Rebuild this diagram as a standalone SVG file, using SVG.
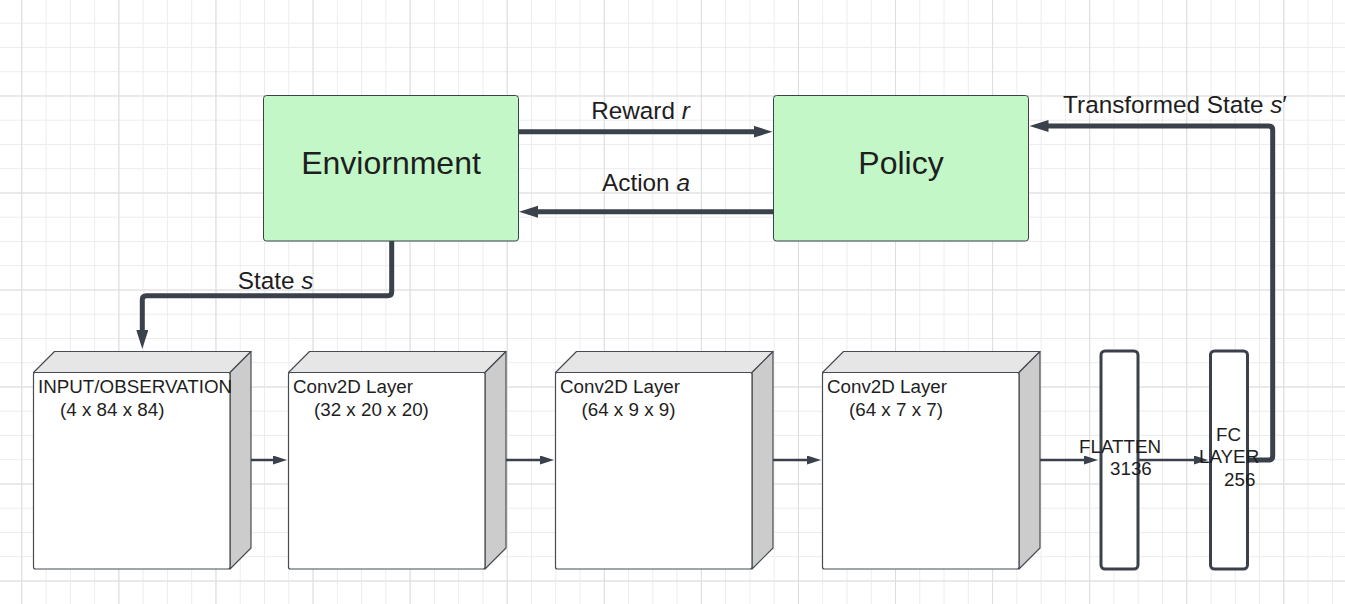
<svg xmlns="http://www.w3.org/2000/svg" width="1345" height="604" viewBox="0 0 1345 604">
<style>
text{font-family:"Liberation Sans",Arial,sans-serif;fill:#1e1e1e}
.big{font-size:32px}
.lbl{font-size:24.3px}
.sm{font-size:18.8px}
.box{fill:#c3f7c8;stroke:#3a414a;stroke-width:1}
.front{fill:#ffffff;stroke:#474c53;stroke-width:1.2}
.top{fill:#e6e6e6;stroke:#474c53;stroke-width:1.2;stroke-linejoin:round}
.side{fill:#cccccc;stroke:#474c53;stroke-width:1.2;stroke-linejoin:round}
.bar{fill:#ffffff;stroke:#3a414a;stroke-width:3}
.thick{fill:none;stroke:#3a414a;stroke-width:5;marker-end:url(#ah)}
.thin{fill:none;stroke:#3a414a;stroke-width:2.5;marker-end:url(#as)}
</style>
<defs>
<pattern id="minor" patternUnits="userSpaceOnUse" x="21.3" y="22.7" width="24.27" height="24.25">
<path d="M0.5 0V24.25M0 0.5H24.27" stroke="#ececec" stroke-width="1" fill="none"/>
</pattern>
<pattern id="major" patternUnits="userSpaceOnUse" x="21.3" y="95.5" width="97.08" height="97">
<path d="M0.5 0V97M0 0.5H97.08" stroke="#dddddd" stroke-width="1" fill="none"/>
</pattern>
<marker id="ah" markerUnits="userSpaceOnUse" markerWidth="20" markerHeight="13" refX="6" refY="6" orient="auto">
<path d="M0 0L19 6L0 12z" fill="#3a414a"/>
</marker>
<marker id="as" markerUnits="userSpaceOnUse" markerWidth="15" markerHeight="10" refX="4" refY="4.5" orient="auto">
<path d="M0 0L14 4.5L0 9z" fill="#3a414a"/>
</marker>
</defs>
<rect width="1345" height="604" fill="#ffffff"/>
<rect width="1345" height="604" fill="url(#minor)"/>
<rect width="1345" height="604" fill="url(#major)"/>

<g id="environment">
<rect class="box" x="263.5" y="95.5" width="255" height="145.5" rx="3"/>
<text class="big" x="391" y="174" text-anchor="middle">Enviornment</text>
</g>
<g id="policy">
<rect class="box" x="773.5" y="95.5" width="255" height="145.5" rx="3"/>
<text class="big" x="901" y="174" text-anchor="middle">Policy</text>
</g>

<g id="input">
<path class="top" d="M33.5 372.5L54.5 351.5H251L230 372.5z"/>
<path class="side" d="M230 372.5L251 351.5V548L230 569z"/>
<rect class="front" x="33.5" y="372.5" width="196.5" height="196.5" rx="2"/>
<text class="sm" x="38" y="392.5">INPUT/OBSERVATION</text>
<text class="sm" x="60" y="416">(4 x 84 x 84)</text>
</g>
<g id="conv1">
<path class="top" d="M288.5 372.5L309.5 351.5H506L485 372.5z"/>
<path class="side" d="M485 372.5L506 351.5V548L485 569z"/>
<rect class="front" x="288.5" y="372.5" width="196.5" height="196.5" rx="2"/>
<text class="sm" x="293" y="392.5">Conv2D Layer</text>
<text class="sm" x="314" y="416">(32 x 20 x 20)</text>
</g>
<g id="conv2">
<path class="top" d="M555.5 372.5L576.5 351.5H773L752 372.5z"/>
<path class="side" d="M752 372.5L773 351.5V548L752 569z"/>
<rect class="front" x="555.5" y="372.5" width="196.5" height="196.5" rx="2"/>
<text class="sm" x="560" y="392.5">Conv2D Layer</text>
<text class="sm" x="581.5" y="416">(64 x 9 x 9)</text>
</g>
<g id="conv3">
<path class="top" d="M822.5 372.5L843.5 351.5H1040L1019 372.5z"/>
<path class="side" d="M1019 372.5L1040 351.5V548L1019 569z"/>
<rect class="front" x="822.5" y="372.5" width="196.5" height="196.5" rx="2"/>
<text class="sm" x="827" y="392.5">Conv2D Layer</text>
<text class="sm" x="849" y="416">(64 x 7 x 7)</text>
</g>
<g id="flatten">
<rect class="bar" x="1101" y="351" width="37" height="218" rx="4"/>
</g>
<g id="fc">
<rect class="bar" x="1210.5" y="351" width="37" height="218" rx="4"/>
</g>

<g id="connectors">
<path class="thick" d="M518.5 131.7H759.5"/>
<path class="thick" d="M773 211.7H532"/>
<path class="thick" d="M391.7 241V291.7Q391.7 295.7 387.7 295.7H146.3Q142.3 295.7 142.3 299.7V336"/>
<path class="thick" d="M1247 460H1268.7Q1272.7 460 1272.7 456V130Q1272.7 126 1268.7 126H1042.5"/>
<path class="thin" d="M251 460H277"/>
<path class="thin" d="M506 460H544"/>
<path class="thin" d="M773 460H811"/>
<path class="thin" d="M1040 460H1088"/>
<path class="thin" d="M1138 460H1198"/>
</g>

<g id="labels">
<text class="lbl" x="640.5" y="119" text-anchor="middle">Reward <tspan font-style="italic">r</tspan></text>
<text class="lbl" x="646" y="191" text-anchor="middle">Action <tspan font-style="italic">a</tspan></text>
<text class="lbl" x="275.5" y="289" text-anchor="middle">State <tspan font-style="italic">s</tspan></text>
<text class="lbl" x="1175" y="112.5" text-anchor="middle">Transformed State <tspan font-style="italic">s</tspan>′</text>
<text class="sm" x="1079" y="452.5">FLATTEN</text>
<text class="sm" x="1110" y="474.5">3136</text>
<text class="sm" x="1216" y="441">FC</text>
<text class="sm" x="1199" y="463">LAYER</text>
<text class="sm" x="1224" y="486">256</text>
</g>
</svg>
